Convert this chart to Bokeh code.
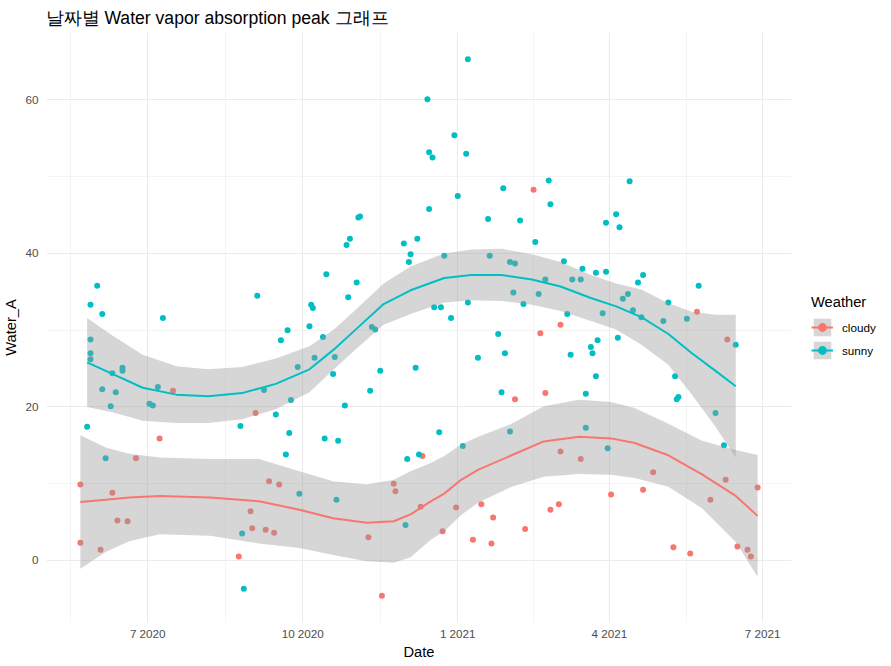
import pandas as pd
from bokeh.plotting import figure
from bokeh.models import (FixedTicker, CustomJSTickFormatter, Legend, LegendItem,
                          Range1d, ColumnDataSource)
from bokeh.embed import file_html
from bokeh.resources import INLINE

# ---------------- data ----------------
cloudy_dates = [
    "2020-07-16", "2020-09-03", "2020-07-08", "2020-06-24", "2020-05-22", "2020-06-10",
    "2020-06-13", "2020-06-19", "2020-05-22", "2020-06-03", "2020-08-31", "2020-09-01",
    "2020-08-24", "2020-09-11", "2020-09-17", "2020-09-09", "2020-09-14", "2020-11-09",
    "2020-11-24", "2020-11-25", "2020-12-11", "2020-12-10", "2020-11-17", "2021-02-15",
    "2021-03-03", "2021-02-19", "2021-02-22", "2021-02-04", "2021-03-03", "2021-03-15",
    "2021-04-02", "2020-12-31", "2021-01-15", "2020-12-23", "2021-01-22", "2021-01-10",
    "2021-01-21", "2021-02-10", "2021-02-25", "2021-03-02", "2021-05-23", "2021-06-10",
    "2021-04-27", "2021-04-21", "2021-06-09", "2021-05-31", "2021-06-28", "2021-05-09",
    "2021-05-19", "2021-06-16", "2021-06-22", "2021-06-24",
]
cloudy_values = [
    22.1, 19.2, 15.9, 13.3, 9.9, 8.8,
    5.2, 5.1, 2.3, 1.4, 6.4, 4.2,
    0.5, 10.3, 9.9, 4.0, 3.6, 3.0,
    10.0, 9.0, 13.6, 7.0, -4.6, 48.3,
    30.7, 29.6, 21.8, 21.0, 14.2, 13.2,
    8.6, 6.9, 7.3, 3.8, 5.6, 2.7,
    2.2, 4.1, 6.6, 7.3, 32.4, 28.8,
    11.5, 9.2, 10.5, 7.9, 9.5, 1.7,
    0.9, 1.8, 1.4, 0.5,
]

sunny_dates = [
    "2020-06-01", "2020-05-28", "2020-06-04", "2020-07-10", "2020-09-04", "2020-05-28",
    "2020-05-28", "2020-05-28", "2020-06-16", "2020-06-16", "2020-06-10", "2020-06-04",
    "2020-06-12", "2020-07-07", "2020-06-09", "2020-07-02", "2020-07-04", "2020-05-26",
    "2020-06-06", "2020-08-25", "2020-08-26", "2020-08-27", "2020-09-22", "2020-09-18",
    "2020-10-05", "2020-10-06", "2020-10-07", "2020-10-15", "2020-10-27", "2020-10-29",
    "2020-11-03", "2020-11-04", "2020-11-02", "2020-10-28", "2020-10-13", "2020-10-08",
    "2020-09-28", "2020-10-20", "2020-10-19", "2020-09-08", "2020-09-24", "2020-09-15",
    "2020-09-23", "2020-09-21", "2020-10-14", "2020-10-22", "2020-10-26", "2020-11-10",
    "2020-11-16", "2020-11-11", "2020-11-13", "2020-11-30", "2020-12-08", "2020-12-04",
    "2020-12-03", "2020-12-15", "2020-12-07", "2020-12-02", "2020-12-09", "2020-12-01",
    "2020-09-29", "2020-10-21", "2021-01-07", "2020-12-14", "2020-12-30", "2020-12-15",
    "2020-12-17", "2021-01-06", "2021-01-01", "2021-01-28", "2021-02-24", "2021-02-25",
    "2021-01-19", "2021-02-07", "2021-02-16", "2021-03-30", "2020-12-24", "2021-01-20",
    "2021-02-01", "2021-02-04", "2021-03-05", "2021-03-16", "2021-03-24", "2021-03-30",
    "2021-03-10", "2021-03-15", "2021-02-22", "2021-02-03", "2021-02-18", "2021-02-09",
    "2021-01-07", "2020-12-18", "2020-12-22", "2020-12-28", "2021-03-07", "2021-03-28",
    "2021-01-25", "2021-03-25", "2021-01-13", "2021-01-29", "2021-01-27", "2021-03-09",
    "2021-03-21", "2021-03-22", "2021-03-24", "2021-03-18", "2020-12-21", "2021-01-04",
    "2021-02-01", "2021-03-18", "2021-03-31", "2021-04-13", "2021-04-05", "2021-04-07",
    "2021-04-21", "2021-04-18", "2021-04-12", "2021-04-09", "2021-04-15", "2021-04-20",
    "2021-05-06", "2021-05-03", "2021-05-17", "2021-05-24", "2021-04-06", "2021-06-15",
    "2021-05-10", "2021-05-11", "2021-05-12", "2021-06-03", "2021-06-08",
]
sunny_values = [
    35.8, 33.3, 32.1, 31.6, 34.5, 28.8,
    27.0, 26.2, 25.1, 24.7, 24.4, 22.3,
    21.9, 22.6, 20.1, 20.4, 20.2, 17.4,
    13.3, 17.5, 3.5, -3.7, 30.0, 28.7,
    30.5, 33.3, 32.9, 37.3, 41.1, 41.9,
    44.7, 44.8, 36.2, 34.3, 29.1, 26.4,
    25.2, 26.5, 24.3, 22.2, 20.9, 19.0,
    16.6, 13.8, 15.9, 15.6, 20.2, 22.1,
    24.7, 30.4, 30.1, 41.3, 41.9, 39.9,
    38.9, 45.8, 25.1, 13.2, 13.8, 4.6,
    8.7, 7.9, 65.3, 60.1, 55.4, 53.2,
    52.5, 53.0, 47.5, 48.5, 49.5, 46.4,
    44.5, 44.3, 41.5, 44.0, 39.7, 39.7,
    38.9, 38.7, 39.0, 38.0, 37.5, 37.6,
    36.6, 36.6, 36.6, 34.9, 34.7, 33.4,
    33.6, 33.0, 33.0, 31.6, 32.1, 32.2,
    29.5, 28.7, 26.4, 27.0, 21.9, 26.8,
    27.8, 27.0, 24.0, 21.7, 16.7, 14.9,
    16.8, 17.3, 14.6, 49.4, 45.1, 43.4,
    37.2, 36.2, 34.7, 34.1, 32.6, 31.7,
    33.6, 31.2, 31.5, 35.8, 29.0, 28.1,
    24.0, 21.0, 21.3, 19.2, 15.0,
]

# loess smooth (fit and half width of the confidence band)
cloudy_fit_dates = [
    "2020-05-22", "2020-06-06", "2020-06-20", "2020-07-08", "2020-08-07", "2020-09-05",
    "2020-09-29", "2020-10-19", "2020-11-08", "2020-11-24", "2020-12-04", "2020-12-16",
    "2020-12-24", "2021-01-03", "2021-01-13", "2021-02-02", "2021-02-21", "2021-03-14",
    "2021-04-02", "2021-04-16", "2021-05-06", "2021-05-26", "2021-06-15", "2021-06-28",
]
cloudy_fit = [
    7.6, 7.9, 8.2, 8.4, 8.2, 7.7,
    6.6, 5.5, 4.9, 5.1, 6.0, 7.7,
    8.7, 10.5, 11.8, 13.7, 15.5, 16.1,
    15.9, 15.3, 13.7, 11.2, 8.4, 5.8,
]
cloudy_halfwidth = [
    8.7, 6.8, 5.7, 5.0, 5.0, 5.5,
    5.0, 4.8, 5.0, 5.4, 5.6, 5.0,
    4.9, 4.6, 4.3, 4.1, 4.6, 4.85,
    4.75, 4.55, 4.1, 4.4, 6.0, 7.95,
]

sunny_fit_dates = [
    "2020-05-26", "2020-06-10", "2020-06-28", "2020-07-18", "2020-08-06", "2020-08-26",
    "2020-09-15", "2020-10-05", "2020-10-19", "2020-11-03", "2020-11-18", "2020-12-04",
    "2020-12-24", "2021-01-09", "2021-01-27", "2021-02-14", "2021-03-03", "2021-03-21",
    "2021-04-05", "2021-04-20", "2021-05-06", "2021-05-20", "2021-06-03", "2021-06-15",
]
sunny_fit = [
    25.8, 24.3, 22.5, 21.6, 21.4, 21.8,
    23.0, 24.9, 27.4, 30.4, 33.4, 35.2,
    36.8, 37.2, 37.2, 36.6, 35.7, 34.2,
    33.1, 31.7, 29.5, 27.0, 24.7, 22.7,
]
sunny_halfwidth = [
    5.8, 5.0, 4.3, 3.7, 3.5, 3.4,
    3.3, 3.0, 2.6, 2.6, 2.7, 3.1,
    3.2, 3.3, 3.4, 3.3, 3.2, 3.0,
    3.0, 3.6, 4.0, 5.4, 7.3, 9.3,
]

x_tick_dates = ["2020-07-01", "2020-10-01", "2021-01-01", "2021-04-01", "2021-07-01"]
y_ticks = [0, 20, 40, 60]
y_minor_ticks = [-10, 10, 30, 50, 70]

groups = ["cloudy", "sunny"]
colors = {"cloudy": "#F8766D", "sunny": "#00BFC4"}

# ---------------- build ----------------
def ms(s):
    return pd.Timestamp(s).value / 1e6

pts = {
    "cloudy": ColumnDataSource(dict(x=pd.to_datetime(cloudy_dates), y=cloudy_values)),
    "sunny": ColumnDataSource(dict(x=pd.to_datetime(sunny_dates), y=sunny_values)),
}
fits = {}
for g, d, f, h in [("cloudy", cloudy_fit_dates, cloudy_fit, cloudy_halfwidth),
                   ("sunny", sunny_fit_dates, sunny_fit, sunny_halfwidth)]:
    fits[g] = ColumnDataSource(dict(
        x=pd.to_datetime(d), y=f,
        lo=[a - b for a, b in zip(f, h)], hi=[a + b for a, b in zip(f, h)]))

all_dates = pd.to_datetime(cloudy_dates + sunny_dates)
dmin, dmax = all_dates.min(), all_dates.max()
all_vals = cloudy_values + sunny_values
vmin, vmax = min(all_vals), max(all_vals)
xpad = (dmax - dmin) * 0.05
ypad = (vmax - vmin) * 0.05

FONT = "Liberation Sans"

p = figure(frame_width=745, frame_height=590, x_axis_type="datetime",
           x_range=Range1d(dmin - xpad, dmax + xpad),
           y_range=Range1d(vmin - ypad, vmax + ypad),
           output_backend="svg", toolbar_location=None,
           min_border_left=0, min_border_right=0,
           min_border_top=0, min_border_bottom=0)

p.outline_line_color = None
p.background_fill_color = "white"
p.border_fill_color = "white"

p.title.text = "날짜별 Water vapor absorption peak 그래프"
p.title.text_font = FONT
p.title.text_font_size = "17.6px"
p.title.text_font_style = "normal"
p.title.text_color = "black"
p.title.align = "left"
p.title.standoff = 3.5
p.title.padding = 3
p.title.offset = -4

# axes
major_ms = [ms(s) for s in x_tick_dates]
minor_ms = [(a + b) / 2 for a, b in zip(major_ms[:-1], major_ms[1:])]
step = major_ms[1] - major_ms[0]
minor_ms = [major_ms[0] - step / 2] + minor_ms + [major_ms[-1] + step / 2]
p.xaxis.ticker = FixedTicker(ticks=major_ms, minor_ticks=minor_ms)
p.xaxis.formatter = CustomJSTickFormatter(
    code="const d = new Date(tick); return (d.getUTCMonth() + 1) + ' ' + d.getUTCFullYear();")
p.yaxis.ticker = FixedTicker(ticks=y_ticks, minor_ticks=y_minor_ticks)

p.xaxis.axis_label = "Date"
p.yaxis.axis_label = "Water_A"
for ax in (p.xaxis, p.yaxis):
    ax.axis_line_color = None
    ax.major_tick_line_color = None
    ax.minor_tick_line_color = None
    ax.major_tick_out = 0
    ax.major_tick_in = 0
    ax.minor_tick_out = 0
    ax.minor_tick_in = 0
    ax.major_label_text_font = FONT
    ax.major_label_text_font_size = "11.7px"
    ax.major_label_text_color = "#4D4D4D"
    ax.axis_label_text_font = FONT
    ax.axis_label_text_font_size = "14.7px"
    ax.axis_label_text_font_style = "normal"
    ax.axis_label_text_color = "black"
p.xaxis.major_label_standoff = 4
p.yaxis.major_label_standoff = 8
p.xaxis.axis_label_standoff = 1
p.yaxis.axis_label_standoff = 3

for gr in (p.xgrid, p.ygrid):
    gr.grid_line_color = "#EBEBEB"
    gr.grid_line_width = 1.1
    gr.minor_grid_line_color = "#EBEBEB"
    gr.minor_grid_line_width = 0.55

# points first, then the smooths on top (as ggplot does)
scat = {}
for g in groups:
    scat[g] = p.scatter("x", "y", source=pts[g], size=6, marker="circle",
                        fill_color=colors[g], line_color=None)
bands, lines = {}, {}
for g in groups:
    bands[g] = p.varea(x="x", y1="lo", y2="hi", source=fits[g],
                       fill_color="#999999", fill_alpha=0.4)
    lines[g] = p.line("x", "y", source=fits[g], line_color=colors[g], line_width=2)

legend = Legend(items=[LegendItem(label=g, renderers=[bands[g], lines[g], scat[g]])
                       for g in groups],
                title="Weather", location=(20, 261))
legend.title_text_font = FONT
legend.title_text_font_size = "14.7px"
legend.title_text_font_style = "normal"
legend.title_text_color = "black"
legend.title_standoff = 6
legend.label_text_font = FONT
legend.label_text_font_size = "11.7px"
legend.label_text_color = "black"
legend.glyph_width = 22
legend.glyph_height = 22
legend.label_height = 22
legend.spacing = 1
legend.label_standoff = 9
legend.margin = 0
legend.padding = 7
legend.border_line_color = None
legend.background_fill_alpha = 0
p.add_layout(legend, "right")

open("out.html", "w").write(file_html(p, INLINE))
